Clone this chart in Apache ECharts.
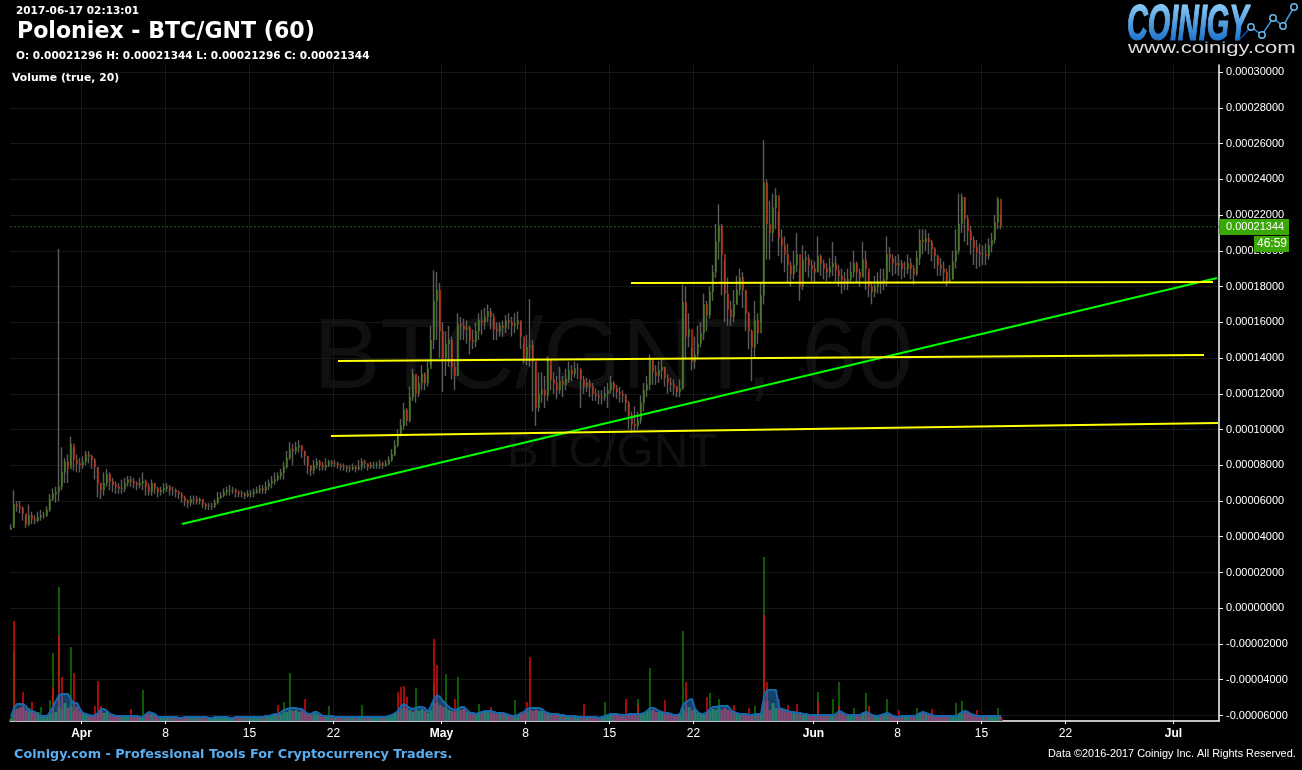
<!DOCTYPE html>
<html><head><meta charset="utf-8"><style>html,body{margin:0;padding:0;background:#000}#c{width:1302px;height:770px}</style>
<script src="https://cdn.jsdelivr.net/npm/echarts@6/dist/echarts.min.js"></script></head>
<body><div id="c"></div>
<script>
// Prices in units of 0.000001 BTC, one candle every 6 hours starting 2017-03-26 03:00
const firstCandle = '2017-03-26T03:00:00Z';
const firstOpen = 44;
const closes = [
45,58,57,56,53,47,52,50,49,51,
52,52,55,61,64,65,68,76,82,78,
92,83,81,80,82,86,85,83,79,70,
66,70,75,71,69,68,67,67,70,72,
71,70,69,70,71,68,65,70,67,65,
66,67,68,66,66,65,64,62,60,59,
61,61,60,61,58,57,57,57,59,62,
63,65,66,66,66,65,64,64,63,64,
64,65,66,67,66,68,70,71,72,74,
76,79,84,89,88,90,91,88,85,80,
77,80,82,80,79,80,82,81,81,80,
79,79,78,78,79,78,79,82,81,79,
80,80,80,81,80,81,83,86,91,97,
102,111,105,118,131,120,126,131,126,134,
150,172,178,155,140,148,150,135,130,159,
158,156,157,150,149,155,161,160,163,166,
163,156,155,158,157,161,160,158,159,161,
152,139,146,147,138,112,120,122,119,139,
128,126,122,127,125,128,133,131,134,134,
128,124,126,124,120,119,118,118,120,122,
126,123,121,120,119,115,108,103,102,105,
115,122,125,140,132,130,133,135,129,126,
125,124,121,123,171,152,156,138,142,148,
154,170,164,177,188,205,214,198,176,167,
163,170,178,185,178,165,155,146,161,154,
175,238,215,210,224,231,207,203,198,192,
187,192,198,180,195,196,192,190,188,197,
193,190,188,191,193,189,186,184,183,184,
188,193,188,185,195,190,180,177,180,183,
182,184,198,196,193,192,193,190,190,193,
190,187,196,206,205,207,205,201,197,192,
190,188,183,184,194,200,215,230,218,211,
206,202,199,198,198,197,203,206,216,229,
213.44];
const highs = [
47,66,60,60,57,52,58,54,52,54,
55,54,57,64,67,68,201,90,84,86,
96,90,86,84,85,88,88,86,84,79,
70,76,78,76,73,71,70,72,73,74,
74,73,71,73,76,72,70,72,70,68,
68,70,70,69,68,67,66,65,63,61,
63,63,63,62,61,59,59,59,61,65,
65,67,68,69,68,67,66,66,65,66,
66,67,68,69,69,71,72,74,76,76,
78,82,88,93,92,93,94,91,88,85,
80,83,84,83,82,84,83,83,83,82,
81,81,80,80,81,80,83,84,83,81,
82,82,82,83,82,83,85,89,94,100,
106,115,112,124,134,130,130,136,132,138,
158,189,188,182,160,155,158,152,138,165,
163,162,161,158,156,160,165,167,168,170,
168,165,160,160,161,164,165,163,165,166,
160,148,153,173,150,138,132,132,130,141,
136,132,130,135,130,134,138,136,138,137,
134,130,129,128,126,123,122,122,124,126,
130,127,125,124,122,120,116,110,113,110,
119,126,130,142,140,136,138,139,135,131,
129,128,124,128,181,180,165,146,152,158,
160,176,172,180,192,215,226,215,195,185,
172,178,186,190,188,178,166,156,172,165,
182,262,240,228,232,235,222,212,208,204,
194,200,210,190,203,200,198,195,194,208,
198,195,193,196,205,197,192,190,188,190,
194,200,194,190,205,200,188,183,186,188,
190,190,208,202,198,197,198,195,194,198,
196,192,200,212,212,212,210,206,202,198,
196,194,190,192,200,212,232,232,230,220,
214,208,206,204,203,204,207,210,220,230,
220];
const lows = [
44,45,54,53,49,45,46,47,47,48,
49,50,51,54,60,59,60,66,70,70,
80,77,76,76,78,80,81,78,72,62,
61,63,68,66,65,64,64,64,65,68,
68,67,66,67,66,63,63,63,64,62,
63,64,65,63,63,62,61,59,57,56,
57,58,58,58,56,55,55,55,56,58,
61,62,63,63,64,62,62,62,61,62,
62,62,64,64,64,64,66,67,69,71,
72,72,78,83,80,86,87,84,80,75,
74,75,78,77,77,77,79,79,79,78,
77,77,76,76,77,76,77,77,78,77,
78,78,78,78,78,79,80,82,85,90,
96,100,102,104,116,115,118,122,122,124,
136,145,150,140,121,130,135,128,122,130,
150,150,148,142,145,146,150,153,156,160,
156,150,150,152,152,154,156,152,154,156,
145,137,136,135,110,102,110,115,112,116,
122,120,117,120,118,122,126,127,129,128,
112,120,121,118,116,116,114,114,116,112,
120,118,117,115,115,110,100,98,99,100,
103,110,118,122,125,125,126,128,124,120,
121,119,118,118,122,140,146,133,134,140,
146,150,155,162,172,185,195,175,160,158,
158,160,170,175,168,155,145,127,140,148,
160,170,195,195,205,212,197,193,188,182,
180,184,188,172,178,188,185,183,182,188,
186,184,183,185,186,183,180,176,178,178,
182,185,182,180,186,178,174,170,174,176,
176,178,180,188,186,187,186,184,185,187,
184,181,186,192,198,200,198,194,190,186,
186,183,180,182,184,190,198,210,205,203,
198,192,190,191,192,192,195,199,204,212,
212];
// Volume, relative units, one slot per candle
const volumeBase = [
3,10,12,13,14,11,13,9,8,9,
6,4,6,7,8,9,14,12,18,13,
15,11,14,10,7,7,5,6,5,8,
10,8,9,6,6,4,6,4,5,6,
4,6,4,5,3,7,7,8,6,4,
5,3,4,5,3,4,3,4,3,5,
3,5,4,3,5,4,3,4,3,4,
5,3,4,3,4,5,3,5,4,3,
5,3,4,5,3,6,4,6,6,7,
7,9,9,11,10,11,9,10,7,7,
6,8,7,6,4,6,5,4,5,3,
4,5,3,4,5,3,4,5,3,4,
5,3,4,5,3,5,4,6,7,9,
11,13,11,11,9,11,10,12,10,8,
11,17,18,16,14,13,11,10,9,10,
11,12,9,8,7,7,7,8,9,9,
8,9,7,8,7,7,5,6,4,7,
7,9,9,11,10,11,10,10,8,8,
6,7,6,7,5,6,4,6,4,5,
3,5,4,3,5,3,4,3,6,5,
7,6,7,5,7,5,7,6,7,6,
7,7,9,10,11,9,9,8,8,7,
7,5,7,6,12,9,14,11,12,8,
7,6,9,10,12,11,13,11,13,11,
10,8,8,6,7,6,7,5,7,6,
8,12,20,11,18,13,12,11,11,9,
9,8,8,7,7,6,6,5,6,5,
6,5,6,5,6,6,9,8,7,5,
6,5,6,5,8,8,8,5,5,4,
6,6,8,6,5,3,4,4,5,4,
5,4,6,7,8,7,7,5,5,4,
5,4,5,4,5,4,7,7,9,8,
7,5,5,4,5,4,5,4,5,4,
4];
const volumeAverage = [
4,13,17,17,17,15,10,10,9,7,
5,5,5,9,14,20,26,27,27,27,
21,18,18,12,8,7,6,5,6,8,
12,12,10,7,6,5,5,5,5,5,
5,5,5,4,4,7,9,8,7,4,
4,4,4,4,4,4,3,3,4,4,
4,4,4,4,4,4,3,3,4,4,
4,4,4,3,3,4,4,4,4,4,
4,4,4,4,4,5,5,6,7,7,
9,11,12,13,13,13,12,12,9,7,
7,9,9,7,5,5,5,5,4,4,
4,4,4,4,4,4,4,4,4,4,
4,4,4,4,4,4,5,6,8,10,
15,17,15,13,12,13,14,14,13,9,
15,22,26,24,20,17,14,12,11,12,
14,14,11,8,8,7,8,9,10,10,
10,9,8,8,8,7,6,5,5,6,
8,9,12,13,13,13,13,12,9,8,
7,7,7,6,6,5,5,5,5,4,
4,4,4,4,4,4,3,4,5,6,
7,7,7,6,6,6,7,7,7,7,
7,8,10,13,13,12,10,9,8,8,
7,6,6,7,16,19,21,22,12,9,
7,7,9,12,14,14,15,15,15,15,
11,9,8,7,7,7,6,6,7,7,
7,24,31,31,31,31,13,12,11,10,
9,9,8,8,7,7,6,6,6,6,
6,6,6,6,6,7,10,9,7,6,
6,6,6,6,8,9,8,6,5,5,
6,7,8,7,5,4,4,5,5,5,
5,5,6,8,9,8,7,6,5,5,
5,5,5,5,5,5,7,9,10,9,
7,6,5,5,5,5,5,5,5,5,
5];
// Tall volume bars: [slot, height]
const greenSpikes = [[1,69],[10,14],[13,21],[14,68],[16,134],[20,74],[44,31],[91,19],[93,48],[106,15],[117,16],[135,33],[141,38],[145,47],[149,44],[156,17],[168,21],[198,19],[209,22],[213,53],[224,90],[233,28],[236,22],[248,15],[251,164],[269,29],[274,22],[276,39],[281,13],[285,28],[292,22],[302,13],[315,18],[317,20],[329,13]];
const redSpikes = [[1,100],[4,29],[7,19],[14,34],[16,86],[17,44],[21,48],[28,15],[29,40],[30,15],[40,12],[89,16],[98,22],[129,29],[130,34],[131,35],[132,24],[141,82],[142,56],[148,22],[160,14],[172,19],[173,64],[191,17],[205,22],[209,16],[218,21],[225,39],[232,24],[241,16],[246,13],[251,106],[252,39],[256,22],[259,16],[262,17],[269,20],[276,15],[286,15],[296,11],[307,12],[322,11]];

const greenTrend = [['2017-04-09T09:00:00Z',47.1],['2017-07-04T15:00:00Z',184.8]];
const yellowTrendTop = [['2017-05-16T19:00:00Z',182],['2017-07-04T07:00:00Z',182.5]];
const yellowTrendMid = [['2017-04-22T09:00:00Z',138.3],['2017-07-03T13:00:00Z',141.7]];
const yellowTrendLow = [['2017-04-21T19:00:00Z',96.4],['2017-07-04T17:00:00Z',103.6]];
const lastPrice = 213.44;

const xTickDates = ['2017-04-01','2017-04-08','2017-04-15','2017-04-22','2017-05-01','2017-05-08','2017-05-15','2017-05-22','2017-06-01','2017-06-08','2017-06-15','2017-06-22','2017-07-01'];
const xTickLabels = ['Apr','8','15','22','May','8','15','22','Jun','8','15','22','Jul'];
const yTickValues = [-6,-4,-2,0,2,4,6,8,10,12,14,16,18,20,22,24,26,28,30]; // units of 0.00001

const HOUR = 3600000, DAY = 24*HOUR;
const t0 = Date.parse(firstCandle);
const tApr1 = Date.parse('2017-04-01T00:00:00Z');
const xMin = tApr1 - 71.5/12*DAY, xMax = tApr1 + 1137.5/12*DAY;
const yMin = -0.00006308, yMax = 0.00030392;
const P = v => v*1e-6;
const times = closes.map((_,i)=>t0+i*6*HOUR);
const opens = closes.map((_,i)=> i===0?firstOpen:closes[i-1]);
const wickData = closes.map((c,i)=>[times[i],P(opens[i]),P(c),P(lows[i]),P(highs[i])]);
const bodyData = closes.map((c,i)=>{const o=opens[i];return [times[i],P(o),P(c),P(Math.min(o,c)),P(Math.max(o,c))];});
const baseUp = closes.map((c,i)=>[times[i], c>=opens[i]?volumeBase[i]:0]);
const baseDown = closes.map((c,i)=>[times[i], c<opens[i]?volumeBase[i]:0]);
const spikeData = s => s.map(([i,h])=>[times[i],h]);
const tickTimes = xTickDates.map(d=>Date.parse(d+'T00:00:00Z'));
const labelOf = Object.fromEntries(tickTimes.map((t,i)=>[t,xTickLabels[i]]));
const yTicks = yTickValues.map(v=>+(v*1e-5).toFixed(8));
const iso = a => a.map(p=>[Date.parse(p[0]),P(p[1])]);
const trend = (name,pts,color)=>({name,type:'line',data:iso(pts),symbol:'none',z:6,lineStyle:{color,width:2},silent:true});

const sans='"DejaVu Sans"', arial='"Liberation Sans"';
const txt=(text,x,y,font,fill,extra)=>Object.assign({type:'text',x,y,silent:true,z:50},extra||{},{style:{text,font,fill,textVerticalAlign:'top'}});

const chart = echarts.init(document.getElementById('c'),null,{renderer:'canvas'});
chart.setOption({
  animation:false,backgroundColor:'#000',
  grid:{left:10,top:65,width:1209,height:656,containLabel:false},
  xAxis:[{type:'value',min:xMin,max:xMax,scale:true,
    axisLine:{show:true,onZero:false,lineStyle:{color:'#fff',width:1.5}},
    axisTick:{show:true,length:3,lineStyle:{color:'#fff'},customValues:tickTimes},
    axisLabel:{show:true,customValues:tickTimes,hideOverlap:false,margin:7,color:'#fff',fontFamily:arial,fontSize:12,
      formatter:v=>{const l=labelOf[v];return /^[A-Z]/.test(l)?'{b|'+l+'}':l;},
      rich:{b:{fontWeight:'bold',color:'#fff',fontFamily:arial,fontSize:12}}},
    splitLine:{show:true,lineStyle:{color:'#171717',width:1}}},
    {type:'value',min:xMin,max:xMax,scale:true,show:false,splitLine:{show:false}}],
  yAxis:[{type:'value',position:'right',min:yMin,max:yMax,
      axisLine:{show:true,onZero:false,lineStyle:{color:'#fff',width:1.5}},
      axisTick:{show:true,length:4,lineStyle:{color:'#fff'},customValues:yTicks},
      axisLabel:{show:true,customValues:yTicks,margin:7,padding:[2,0,0,0],color:'#fff',fontFamily:arial,fontSize:11,formatter:v=>(+v).toFixed(8)},
      splitLine:{show:true,lineStyle:{color:'#171717',width:1}}},
    {type:'value',min:0,max:656,show:false,splitLine:{show:false}}],
  series:[
    {name:'VolumeBaseUp',type:'bar',xAxisIndex:1,yAxisIndex:1,data:baseUp,barWidth:3,barGap:'-100%',itemStyle:{color:'#1f7a0a'},z:2,silent:true},
    {name:'VolumeBaseDown',type:'bar',xAxisIndex:1,yAxisIndex:1,data:baseDown,barWidth:3,barGap:'-100%',itemStyle:{color:'#d01010'},z:2,silent:true},
    {name:'VolumeSpikesUp',type:'bar',yAxisIndex:1,data:spikeData(greenSpikes),barWidth:1.5,barGap:'-100%',itemStyle:{color:'#157a05'},z:2,silent:true},
    {name:'VolumeSpikesDown',type:'bar',yAxisIndex:1,data:spikeData(redSpikes),barWidth:1.5,barGap:'-100%',itemStyle:{color:'#dc0c0c'},z:2,silent:true},
    {name:'VolumeMA',type:'line',yAxisIndex:1,data:volumeAverage.map((v,i)=>[times[i],v]),symbol:'none',z:3,silent:true,
      lineStyle:{color:'#1668ad',width:2},areaStyle:{color:'rgba(45,130,215,0.7)'}},
    {name:'LastPrice',type:'line',data:[[xMin,P(lastPrice)],[xMax,P(lastPrice)]],symbol:'none',z:1,silent:true,lineStyle:{color:'#1f6a12',width:1,type:[2,2]}},
    {name:'Wicks',type:'candlestick',data:wickData,encode:{x:0,y:[1,2,3,4]},barWidth:1,z:4,silent:true,
      itemStyle:{color:'#5c5c5c',color0:'#5c5c5c',borderColor:'#5c5c5c',borderColor0:'#5c5c5c',borderWidth:1.4}},
    {name:'Bodies',type:'candlestick',data:bodyData,encode:{x:0,y:[1,2,3,4]},barWidth:2,z:5,silent:true,
      itemStyle:{color:'#47801c',color0:'#c2351a',borderColor:'#47801c',borderColor0:'#c2351a',borderWidth:0.5}},
    trend('Support',greenTrend,'#00ff00'),
    trend('Level 18',yellowTrendTop,'#ffff00'),
    trend('Level 14',yellowTrendMid,'#ffff00'),
    trend('Level 10',yellowTrendLow,'#ffff00')
  ],
  graphic:[
    {type:'text',x:313,y:310,z:-1,silent:true,style:{text:'BTC/GNT, 60',font:'101px '+arial,fill:'#101010',textVerticalAlign:'top'}},
    {type:'text',x:507,y:430,z:-1,silent:true,style:{text:'BTC/GNT',font:'48px '+arial,fill:'#101010',textVerticalAlign:'top'}},
    txt('2017-06-17 02:13:01',16,6,'bold 10.5px '+sans,'#fff'),
    txt('Poloniex - BTC/GNT (60)',17,21,'bold 22.1px '+sans,'#fff'),
    txt('O: 0.00021296 H: 0.00021344 L: 0.00021296 C: 0.00021344',16,51,'bold 10.5px '+sans,'#fff'),
    txt('Volume (true, 20)',12,73,'bold 10.8px '+sans,'#fff'),
    txt('Coinigy.com - Professional Tools For Cryptocurrency Traders.',14,748,'bold 12.8px '+sans,'#5aaef0'),
    txt('Data \u00a92016-2017 Coinigy Inc. All Rights Reserved.',1048,748,'10.9px '+arial,'#fff'),
    {type:'rect',z:49,silent:true,shape:{x:1219,y:219,width:70,height:16},style:{fill:'#39a706'}},
    {type:'rect',z:49,silent:true,shape:{x:1254,y:236,width:35,height:16},style:{fill:'#39a706'}},
    txt('0.00021344',1226,221,'11px '+arial,'#fff'),
    txt('46:59',1257,238,'12px '+arial,'#fff'),
    {type:'text',x:1127,y:1,scaleX:0.575,z:50,silent:true,style:{text:'COINIGY',font:'italic bold 50px '+arial,fill:'#ffffff',stroke:'#ffffff',lineWidth:1.2,textVerticalAlign:'top'}},
    {type:'rect',z:51,silent:true,shape:{x:1122,y:2,width:130,height:40},
      style:{blend:'multiply',fill:new echarts.graphic.LinearGradient(0,0,0,1,[{offset:0,color:'#8fd0fa'},{offset:1,color:'#1a70c8'}])}},
    txt('www.coinigy.com',1128,41,'16px '+arial,'#ddd',{scaleX:1.38}),
    {type:'polyline',z:50,silent:true,shape:{points:[[1240,39],[1251,27],[1262,35],[1273,18],[1283,26],[1294,7]]},style:{stroke:'#3f96d8',lineWidth:1.5,fill:null}},
    ...[[1251,27],[1262,35],[1273,18],[1283,26],[1294,7]].map(p=>({type:'circle',z:52,silent:true,shape:{cx:p[0],cy:p[1],r:3.2},style:{stroke:'#6cb6ea',lineWidth:1.5,fill:'#000'}}))
  ]
});
</script></body></html>
